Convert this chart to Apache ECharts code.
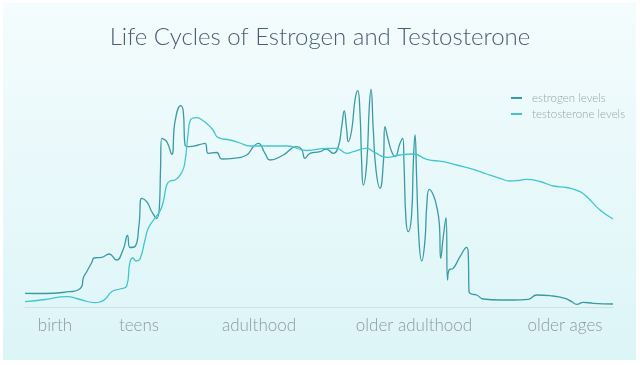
<!DOCTYPE html>
<html>
<head>
<meta charset="utf-8">
<script src="https://cdn.jsdelivr.net/npm/echarts@6/dist/echarts.min.js"></script>
<style>
html,body{margin:0;padding:0;background:#ffffff;}
#c{width:640px;height:365px;}
</style>
</head>
<body>
<div id="c"></div>
<script>
var stageNames = ['birth', 'teens', 'adulthood', 'older adulthood', 'older ages'];
var stageAt = [30, 114, 234, 389, 540];

var estrogen = [
[0,13.7],[20,13.5],[45,15.3],[53,17],[57,21],[58.3,29],[61.7,35.3],[67,45],[69,49],[76.7,49.7],[84.3,53],[91.5,47],
[98,57],[102.5,71.5],[105,59.5],[110,60.5],[114,82],[116.7,108.7],[121.7,105.3],[127,95],[131.7,88.7],[134.3,98.7],
[135.5,137],[136.7,168.7],[141.7,165.3],[146.7,152.7],[150,185.3],[155.7,201.3],[158.3,195.3],[160,162],[164.3,160.3],
[173.3,162],[180,163.7],[183.3,153.7],[191.7,154.5],[196.7,148],[208.3,148.7],[221.7,152],[228.3,160.3],[233.3,163.7],
[240,153.7],[245,147],[258.3,152],[271.7,160.3],[276.7,157.7],[280,148.7],[285,153.7],[295,155.3],[301,158],[308.3,153.7],
[313.3,160.3],[316.7,180.3],[319.2,196],[321.7,177],[323.3,165.3],[326.7,177],[330,207],[332.7,216.3],[335,193.7],
[336.7,143.7],[338.3,122],[341.7,143.7],[344.3,200.3],[346,217.7],[348.3,177],[351,137],[355,118.7],[358.3,143.7],
[360,180.3],[363.3,167],[366.7,155.3],[370,150.3],[375,163.7],[377.7,168.7],[379,143.7],[381,87],[383.3,75.3],
[386.7,93.7],[388.3,143.7],[390,172],[391.7,127],[394,67],[396.7,46],[400,67],[401.7,100.3],[404.3,117.7],[408.3,112],
[411.7,100.3],[414.3,83.7],[415.7,48.7],[418.3,70.3],[421,89.3],[422.5,27],[424,37],[428.3,38.7],[435,50.3],[441.7,59.7],
[443.3,52],[444,15.3],[446.7,13],[451.7,12],[458.3,8],[475,7],[488.3,7],[503.3,7.7],[511.7,12],[525,11.3],[540,8.7],
[546.7,5.3],[551.7,2.7],[558.3,4.7],[568.3,3.7],[588,3]
];

var testosterone = [
[0,5.3],[20,7.5],[41.7,10.3],[55,7.5],[70,4.3],[75,5],[80,7.7],[86.7,15.3],[95,18],[101.7,21],[105,45],[108,49],[111,46],
[115,48],[120,67],[123.3,78.7],[130,89],[135,96],[138.3,105.3],[141.7,122],[145,126],[150,127],[157,135],[160,145.3],
[163,172],[165.5,187],[171.7,189.3],[177,187],[183.3,182],[188,177],[193.3,169.3],[205,167],[215,164],[225,161],
[241.7,161],[261.7,161],[281.7,156.5],[301.7,158.7],[311.7,158.7],[321.7,153.7],[328.3,155.3],[341.7,158.7],[350,154.3],
[361.7,149.7],[375,152],[388.3,153],[401.7,147.7],[418.3,145.3],[431.7,142],[448.3,137.7],[461.7,133],[475,128.7],
[485,126],[493,126.5],[501.7,127.7],[515,125.5],[528.3,121],[541.7,119.5],[555,115.3],[563.3,108.7],[575,97],[588,88]
];

var chart = echarts.init(document.getElementById('c'), null, {renderer: 'canvas'});
chart.setOption({
  animation: false,
  graphic: [{
    type: 'rect', z: -10, silent: true,
    shape: {x: 3, y: 3, width: 633, height: 357},
    style: {fill: new echarts.graphic.LinearGradient(0, 0, 0, 1, [
      {offset: 0, color: '#f4fcfd'}, {offset: 1, color: '#dcf5f7'}])}
  }],
  title: {
    text: 'Life Cycles of Estrogen and Testosterone',
    left: 'center', top: 20,
    textStyle: {fontFamily: 'Lato', fontWeight: 300, fontSize: 24, color: '#485e74'}
  },
  legend: {
    orient: 'vertical', left: 506, top: 87, itemGap: 4,
    icon: 'rect', itemWidth: 11, itemHeight: 2,
    textStyle: {fontFamily: 'Lato', fontWeight: 300, fontSize: 11.5, color: '#9aa3a6', padding: [0, 0, 0, 5]},
    data: ['estrogen levels', 'testosterone levels']
  },
  grid: {left: 25, right: 27, top: 87, bottom: 58, containLabel: false},
  xAxis: {
    type: 'value', min: 0, max: 588,
    splitLine: {show: false},
    axisTick: {show: false},
    axisLine: {show: true, lineStyle: {color: '#cfe1e4', width: 1}},
    axisLabel: {
      customValues: stageAt,
      formatter: function (v) { var i = stageAt.indexOf(v); return i >= 0 ? stageNames[i] : ''; },
      fontFamily: 'Lato', fontWeight: 300, fontSize: 17, color: '#8b9a9f', margin: 10
    }
  },
  yAxis: {
    type: 'value', min: 0, max: 220, show: false, splitLine: {show: false}
  },
  series: [
    {name: 'estrogen levels', type: 'line', data: estrogen, smooth: 0.5, showSymbol: false,
     lineStyle: {color: '#3a9aa3', width: 1.3}, itemStyle: {color: '#3a9aa3'}},
    {name: 'testosterone levels', type: 'line', data: testosterone, smooth: 0.5, showSymbol: false,
     lineStyle: {color: '#42c6ce', width: 1.3}, itemStyle: {color: '#42c6ce'}}
  ]
});
</script>
</body>
</html>
